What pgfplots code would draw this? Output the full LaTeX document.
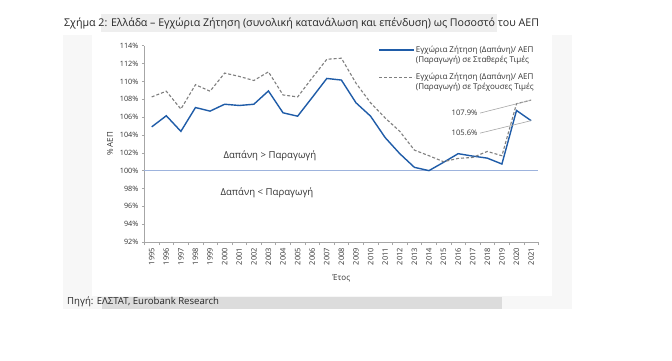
\documentclass[border=0pt]{standalone}
\usepackage{fontspec}
\setmainfont{Open Sans}
\usepackage{pgfplots}
\pgfplotsset{compat=1.18}
\definecolor{cblue}{HTML}{1F5CA8}
\definecolor{cgray}{HTML}{7F7F7F}
\definecolor{refline}{HTML}{9DB3DD}
\definecolor{axgray}{HTML}{A6A6A6}
\definecolor{txt}{HTML}{333333}
\definecolor{frame}{HTML}{F7F7F7}
\definecolor{hl}{HTML}{EEEEEE}
\definecolor{hlsrc}{HTML}{DCDCDC}

\pgfplotstableread{
x  const  curr
0  104.9  108.26
1  106.15 108.9
2  104.4  106.9
3  107.07 109.63
4  106.67 108.9
5  107.44 110.93
6  107.3  110.56
7  107.44 110.1
8  108.93 111.07
9  106.48 108.48
10 106.1  108.26
11 108.2  110.4
12 110.33 112.48
13 110.15 112.6
14 107.6  109.8
15 106.1  107.6
16 103.7  105.9
17 101.9  104.4
18 100.37 102.3
19 100.0  101.67
20 100.93 101.0
21 101.9  101.37
22 101.63 101.48
23 101.4  102.15
24 100.74 101.67
25 106.74 107.5
26 105.6  107.9
}\datatable

\begin{document}
\begin{tikzpicture}
\fill[white] (0pt,0pt) rectangle (672pt,-360pt);
\fill[frame] (63pt,-35pt) rectangle (572pt,-309pt);
\fill[white] (92pt,-35pt) rectangle (552pt,-296pt);
\fill[hl] (101pt,-14pt) rectangle (497pt,-32pt);
\fill[hlsrc] (102pt,-297pt) rectangle (502pt,-309pt);
\node[anchor=west, inner sep=0pt, font=\fontsize{10.65}{12}\selectfont, text=black!85] at (64pt,-23pt)
  {Σχήμα 2: Ελλάδα – Εγχώρια Ζήτηση (συνολική κατανάλωση και επένδυση) ως Ποσοστό του ΑΕΠ};
\node[anchor=west, inner sep=0pt, font=\fontsize{9.6}{11}\selectfont, text=black!85] at (67pt,-302pt)
  {Πηγή: ΕΛΣΤΑΤ, Eurobank Research};
\begin{axis}[
  at={(144.4pt,-242pt)}, anchor=south west,
  scale only axis, width=394pt, height=196.3pt,
  xmin=-0.5, xmax=26.5, ymin=92, ymax=114,
  axis lines*=left,
  axis line style={axgray, line width=0.6pt},
  tick style={axgray, line width=0.5pt},
  tick align=outside,
  ytick={92,94,...,114},
  yticklabel={\pgfmathprintnumber{\tick}\%},
  xtick={0,...,26},
  xticklabels={1995,1996,1997,1998,1999,2000,2001,2002,2003,2004,2005,2006,2007,2008,2009,2010,2011,2012,2013,2014,2015,2016,2017,2018,2019,2020,2021},
  minor xtick={-0.5,0.5,...,26.5},
  major x tick style={draw=none},
  minor tick length=3pt,
  major tick length=2.5pt,
  x tick label style={rotate=90, anchor=east, font=\fontsize{7.5}{8}\selectfont, text=txt},
  y tick label style={font=\fontsize{7.3}{8}\selectfont, text=txt},
  /pgf/number format/assume math mode=true,
  xlabel={Έτος}, ylabel={\% ΑΕΠ},
  xlabel style={font=\fontsize{8}{9}\selectfont, text=txt, yshift=-2pt},
  ylabel style={font=\fontsize{8}{9}\selectfont, text=txt},
  legend style={at={(0.586,1.015)}, anchor=north west, draw=none, fill=none,
    font=\fontsize{8}{10}\selectfont, row sep=7pt,
    nodes={align=left, text=txt, inner sep=1pt}},
  legend cell align=left,
  legend image code/.code={\draw[#1] (0pt,4.8pt) -- (35pt,4.8pt);},
  clip=false,
]
\addplot[refline, line width=0.7pt, forget plot] coordinates {(-0.5,100) (26.5,100)};
\addplot[cblue, line width=1.4pt] table[x=x, y=const] {\datatable};
\addlegendentry{Εγχώρια Ζήτηση (Δαπάνη)/ ΑΕΠ\\(Παραγωγή) σε Σταθερές Τιμές}
\addplot[cgray, line width=1.1pt, dash pattern=on 3pt off 2pt] table[x=x, y=curr] {\datatable};
\addlegendentry{Εγχώρια Ζήτηση (Δαπάνη)/ ΑΕΠ\\(Παραγωγή) σε Τρέχουσες Τιμές}
\draw[axgray, line width=0.6pt] (axis cs:22.5,106.45) -- (axis cs:26,107.9);
\draw[axgray, line width=0.6pt] (axis cs:22.5,104.2) -- (axis cs:26,105.6);
\node[anchor=east, inner sep=1pt, font=\fontsize{7.6}{9}\selectfont, text=txt] at (axis cs:22.4,106.45) {107.9\%};
\node[anchor=east, inner sep=1pt, font=\fontsize{7.6}{9}\selectfont, text=txt] at (axis cs:22.4,104.2) {105.6\%};
\node[font=\fontsize{9.6}{11}\selectfont, text=txt] at (axis cs:8.1,101.67) {Δαπάνη > Παραγωγή};
\node[font=\fontsize{9.6}{11}\selectfont, text=txt] at (axis cs:7.9,97.49) {Δαπάνη < Παραγωγή};
\end{axis}
\end{tikzpicture}
\end{document}
